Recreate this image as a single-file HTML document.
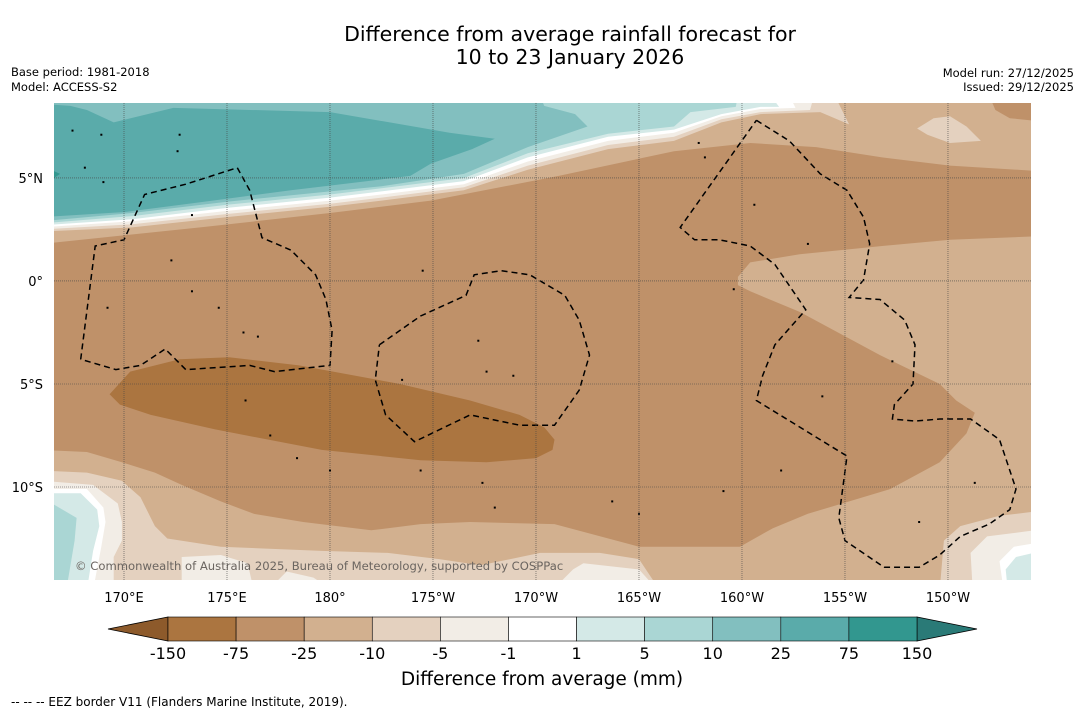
<!DOCTYPE html>
<html><head><meta charset="utf-8"><style>
html,body{margin:0;padding:0;background:#fff;}
svg{display:block;font-family:"DejaVu Sans","Liberation Sans",sans-serif;}
</style></head><body>
<svg id="chart" width="1085" height="713" viewBox="0 0 1085 713" xmlns="http://www.w3.org/2000/svg">
<rect width="1085" height="713" fill="#fff"/>
<text x="570" y="41" font-size="20.5" text-anchor="middle" fill="#000">Difference from average rainfall forecast for</text>
<text x="570" y="64" font-size="20.5" text-anchor="middle" fill="#000">10 to 23 January 2026</text>
<text x="11" y="76" font-size="11.5">Base period: 1981-2018</text>
<text x="11" y="91" font-size="11.5">Model: ACCESS-S2</text>
<text x="1074" y="77" font-size="11.5" text-anchor="end">Model run: 27/12/2025</text>
<text x="1074" y="91" font-size="11.5" text-anchor="end">Issued: 29/12/2025</text>
<defs><clipPath id="mapclip"><rect x="54" y="103" width="977" height="477"/></clipPath></defs>
<g id="map" clip-path="url(#mapclip)"></g>
<g id="axes"></g>
<g id="cbar"></g>
<text x="542" y="685" font-size="18.5" text-anchor="middle">Difference from average (mm)</text>
<text x="11" y="706" font-size="12">--  --  -- EEZ border V11 (Flanders Marine Institute, 2019).</text>
</svg>
<script>
// ---- data ----
const levelLabels = ["-150","-75","-25","-10","-5","-1","1","5","10","25","75","150"];
const levelColors = ["#ab7540","#bf9169","#d2b08f","#e4d1bf","#f2ede6","#ffffff","#d4e9e7","#aad6d4","#82bfbf","#5aabaa","#32978f"];
const extendLowColor = "#8d5a2b";
const extendHighColor = "#2a7a77";
const lonTicks = [170,175,180,185,190,195,200,205,210];
const lonTickLabels = ["170°E","175°E","180°","175°W","170°W","165°W","160°W","155°W","150°W"];
const latTicks = [5,0,-5,-10];
const latTickLabels = ["5°N","0°","5°S","10°S"];
// contour polygons [lon(0-360), lat]
const northLight = [[166,9],[215,9],[215,5.3],[210.1,5.6],[206.8,6.0],[203.6,6.5],[200.4,6.7],[196.7,6.3],[191.1,5.1],[184.9,3.9],[180,3.3],[173.7,2.6],[166,1.8]];
const topRightBase = [[212,9],[215,9],[215,7.7],[213.0,7.9],[212.3,8.3]];
const topRightPatch = [[208.5,7.4],[209.3,7.9],[210.1,8.0],[210.9,7.5],[211.6,6.8],[210.1,6.7],[209.0,7.1]];
const southLight = [[199.8,0.2],[200.4,0.9],[202.8,1.3],[206.8,1.7],[210.1,2.0],[215,2.2],[215,-15],[166,-15],[166,-8.2],[168.2,-8.3],[169.9,-8.8],[171.5,-9.3],[172.8,-9.9],[174.7,-10.7],[176.3,-11.3],[178.7,-11.7],[182.0,-12.1],[184.4,-11.8],[186.8,-11.7],[190.9,-11.8],[195.0,-12.9],[199.9,-12.9],[201.5,-12.0],[203.2,-11.3],[207.2,-10.1],[209.6,-8.8],[210.9,-7.4],[211.3,-6.4],[210.4,-5.8],[209.6,-5.0],[206.7,-3.6],[202.8,-1.5],[200.4,-0.5],[199.8,-0.2]];
const blM10 = [[166,-9.2],[168.2,-9.3],[169.9,-9.7],[170.8,-10.5],[171.5,-11.9],[172.1,-12.5],[174.7,-12.9],[179.6,-13.1],[182.8,-13.2],[185.3,-13.5],[187.3,-13.8],[190.2,-13.2],[193.1,-13.2],[195.0,-13.5],[196.0,-15],[166,-15]];
const brM10 = [[209.6,-15],[209.8,-12.6],[210.6,-11.9],[212.5,-11.4],[215,-11.1],[215,-15]];
const blM5 = [[166,-9.7],[168.5,-9.9],[169.7,-10.8],[169.9,-11.7],[169.9,-12.6],[169.5,-13.4],[169.5,-15],[166,-15]];
const patchM5a = [[172.8,-15],[172.8,-13.4],[174.7,-13.3],[176.0,-13.7],[176.3,-15]];
const patchM5b = [[177.0,-15],[177.9,-14.1],[179.2,-14.4],[180.1,-15]];
const patchM5c = [[190.8,-15],[191.8,-14.0],[192.3,-13.7],[195.0,-14.0],[195.9,-15]];
const brM5 = [[211.2,-15],[211.1,-13.2],[211.9,-12.4],[215,-12.0],[215,-15]];
const blWhite = [[166,-10.1],[168.2,-10.1],[169.0,-11.0],[169.1,-11.7],[168.9,-12.9],[168.5,-15],[166,-15]];
const brWhite = [[212.7,-15],[212.5,-13.6],[213.2,-12.9],[215,-12.6],[215,-15]];
const blP1 = [[166,-10.3],[167.9,-10.3],[168.7,-11.1],[168.8,-11.9],[168.5,-13.1],[168.2,-15],[166,-15]];
const brP1 = [[212.9,-15],[212.8,-14.0],[213.3,-13.4],[215,-13.0],[215,-15]];
const blP5 = [[166,-10.5],[167.7,-11.5],[167.6,-12.6],[167.2,-15],[166,-15]];
const tongue = [[169.3,-5.5],[170.3,-4.4],[172.7,-3.8],[175.1,-3.7],[178.5,-4.1],[183.4,-5.0],[186.8,-5.8],[189.2,-6.5],[190.4,-7.1],[190.9,-7.7],[190.8,-8.2],[190.0,-8.6],[187.6,-8.8],[184.4,-8.7],[179.6,-8.2],[174.4,-7.2],[171.3,-6.5],[169.8,-6.0]];
const curveM10 = [[166,2.4],[170.4,2.6],[175.0,3.1],[180.0,3.6],[182.5,3.9],[186.5,4.4],[189.6,5.4],[193.5,6.4],[196.7,6.8],[199.0,7.7],[200.9,8.1],[203.8,8.2],[205.2,7.6],[204.5,9]];
const curveM5 = [[166,2.5],[170.4,2.75],[175.0,3.25],[180.0,3.75],[182.5,4.05],[186.5,4.55],[189.6,5.6],[193.5,6.6],[196.7,7.0],[199.0,7.85],[200.9,8.2],[203.3,8.3],[203.5,9]];
const curveM1 = [[166,2.6],[170.4,2.9],[175.0,3.4],[180.0,3.9],[182.5,4.2],[186.5,4.7],[189.6,5.8],[193.5,6.8],[196.7,7.2],[199.0,8.0],[200.9,8.35],[202.6,8.4],[202.3,9]];
const curveP1 = [[166,2.7],[170.4,3.0],[175.0,3.55],[180.0,4.05],[182.5,4.35],[186.5,4.85],[189.6,6.0],[193.5,7.0],[196.7,7.35],[199.0,8.1],[200.9,8.45],[201.8,8.45],[201.4,9]];
const curveP5 = [[166,2.8],[170.4,3.15],[175.0,3.7],[180.0,4.2],[182.5,4.5],[186.5,5.0],[189.6,6.2],[193.5,7.15],[196.7,7.5],[197.5,8.2],[199.7,8.45],[199.8,9]];
const curveP10 = [[166,2.9],[170.4,3.3],[175.0,3.85],[180.0,4.35],[182.5,4.6],[186.5,5.2],[189.6,6.5],[192.5,7.5],[191.9,8.1],[190.4,8.5],[190.2,9]];
const polyP25 = [[166,3.1],[170.05,3.35],[174.3,3.9],[178.1,4.4],[183.9,5.1],[184.9,5.7],[186.9,6.4],[188.0,6.9],[185.8,7.2],[180.0,8.2],[172.4,8.4],[169.5,7.7],[168.2,8.3],[167.4,8.5],[166,8.6],[166,9]];
const patchP75 = [[166,5.6],[166.9,5.2],[166,4.6]];
const eezWest = [[167.9,-3.8],[168.6,1.7],[170.0,2.0],[171.0,4.2],[173.0,4.7],[175.5,5.5],[176.1,4.4],[176.7,2.1],[178.1,1.5],[179.3,0.3],[179.8,-0.9],[180.1,-2.4],[180,-4.1],[177.3,-4.4],[176.1,-4.1],[173.0,-4.3],[172.0,-3.3],[170.8,-4.1],[169.6,-4.3],[167.9,-3.8]];
const eezMid = [[182.4,-3.1],[184.4,-1.7],[186.6,-0.7],[187.0,0.3],[188.3,0.5],[189.7,0.3],[191.4,-0.7],[192.1,-1.9],[192.6,-3.6],[192.1,-5.3],[190.9,-7.0],[189.2,-7.0],[186.8,-6.5],[184.1,-7.8],[182.7,-6.5],[182.2,-4.8],[182.4,-3.1]];
const eezEast = [[200.7,7.8],[202.3,6.8],[203.8,5.2],[205.1,4.4],[205.9,3.1],[206.2,1.8],[205.9,0.05],[205.2,-0.8],[206.7,-0.9],[207.9,-1.9],[208.4,-3.1],[208.3,-5.0],[207.4,-6.0],[207.3,-6.7],[208.4,-6.8],[209.6,-6.7],[211.1,-6.7],[212.5,-7.7],[213.3,-10.1],[213.0,-11.1],[212.0,-11.8],[210.6,-12.4],[209.6,-13.3],[208.6,-13.9],[206.9,-13.9],[205,-12.6],[204.7,-11.5],[205.1,-8.5],[200.7,-5.8],[201.0,-4.6],[201.6,-3.1],[203.1,-1.4],[201.6,0.8],[200.4,1.7],[198.9,2.0],[197.7,2.0],[197.0,2.6],[200.7,7.8]];
const islands = [[169.2,-1.3],[172.3,1.0],[173.3,-0.5],[174.6,-1.3],[175.8,-2.5],[176.5,-2.7],[175.9,-5.8],[177.1,-7.5],[178.4,-8.6],[180.0,-9.2],[184.5,0.5],[187.2,-2.9],[187.6,-4.4],[188.9,-4.6],[183.5,-4.8],[200.6,3.7],[203.2,1.8],[199.6,-0.4],[207.3,-3.9],[203.9,-5.6],[201.9,-9.2],[199.1,-10.2],[208.6,-11.7],[211.3,-9.8],[193.7,-10.7],[195.0,-11.3],[184.4,-9.2],[187.4,-9.8],[188.0,-11.0],[169.0,4.8],[168.1,5.5],[173.3,3.2],[172.6,6.3],[172.7,7.1],[168.9,7.1],[167.5,7.3],[197.9,6.7],[198.2,6.0]];

// ---- axis functions ----
const X0=54, X1=1031, Y0=103, Y1=580;
const lonMin=166.602, lonMax=214.03, latMax=8.64, latMin=-14.515;
function xs(lon){return X0+(lon-lonMin)/(lonMax-lonMin)*(X1-X0);}
function ys(lat){return Y0+(latMax-lat)/(latMax-latMin)*(Y1-Y0);}
const NS="http://www.w3.org/2000/svg";
const map=document.getElementById('map');
function pts(a){return a.map(p=>xs(p[0]).toFixed(1)+','+ys(p[1]).toFixed(1)).join(' ');}
function poly(a,color,name){
  const el=document.createElementNS(NS,'polygon');
  el.setAttribute('points',pts(a));
  el.setAttribute('fill',color);
  
  
  map.appendChild(el);
}
function above(curve){return curve.concat([[166,9]]);}
const C=levelColors;
const bg=document.createElementNS(NS,'rect');
bg.setAttribute('x',X0);bg.setAttribute('y',Y0);bg.setAttribute('width',X1-X0);bg.setAttribute('height',Y1-Y0);bg.setAttribute('fill',C[1]);


map.appendChild(bg);
poly(northLight,C[2],'contour-north-light');
poly(topRightBase,C[1],'contour-topright-base');
poly(topRightPatch,C[3],'contour-topright-patch');
poly(southLight,C[2],'contour-south-light');
poly(blM10,C[3],'contour-sw-m10');
poly(brM10,C[3],'contour-se-m10');
poly(blM5,C[4],'contour-sw-m5');
poly(patchM5a,C[4],'contour-s-m5-a');
poly(patchM5b,C[4],'contour-s-m5-b');
poly(patchM5c,C[4],'contour-s-m5-c');
poly(brM5,C[4],'contour-se-m5');
poly(blWhite,C[5],'contour-sw-white');
poly(brWhite,C[5],'contour-se-white');
poly(blP1,C[6],'contour-sw-p1');
poly(brP1,C[6],'contour-se-p1');
poly(blP5,C[7],'contour-sw-p5');
poly(tongue,C[0],'contour-dry-tongue');
poly(above(curveM10),C[3],'contour-north-m10');
poly(above(curveM5),C[4],'contour-north-m5');
poly(above(curveM1),C[5],'contour-north-white');
poly(above(curveP1),C[6],'contour-north-p1');
poly(above(curveP5),C[7],'contour-north-p5');
poly(above(curveP10),C[8],'contour-north-p10');
poly(polyP25,C[9],'contour-north-p25');
poly(patchP75,C[10],'contour-north-p75');
islands.forEach(p=>{
  const d=document.createElementNS(NS,'rect');
  d.setAttribute('x',xs(p[0])-1);d.setAttribute('y',ys(p[1])-1);d.setAttribute('width',2);d.setAttribute('height',2);d.setAttribute('fill','#000');
  
  
  map.appendChild(d);
});
function eez(a,name){
  const el=document.createElementNS(NS,'polyline');
  el.setAttribute('points',pts(a));
  el.setAttribute('fill','none');el.setAttribute('stroke','#000');el.setAttribute('stroke-width','1.5');el.setAttribute('stroke-dasharray','6,4');
  
  
  map.appendChild(el);
}
eez(eezWest,'eez-border-west');
eez(eezMid,'eez-border-middle');
eez(eezEast,'eez-border-east');
const copy=document.createElementNS(NS,'text');
copy.setAttribute('x',75);copy.setAttribute('y',570);copy.setAttribute('font-size','11.6');copy.setAttribute('fill','#6b6560');
copy.textContent='© Commonwealth of Australia 2025, Bureau of Meteorology, supported by COSPPac';


map.appendChild(copy);

// ---- axes / grid ----
const axes=document.getElementById('axes');
lonTicks.forEach((v,i)=>{
  const l=document.createElementNS(NS,'line');
  l.setAttribute('x1',xs(v));l.setAttribute('x2',xs(v));l.setAttribute('y1',Y0);l.setAttribute('y2',Y1);
  l.setAttribute('stroke','#444');l.setAttribute('stroke-width','0.6');l.setAttribute('stroke-dasharray','1,1');
  
  
  axes.appendChild(l);
  const t=document.createElementNS(NS,'text');
  t.setAttribute('x',xs(v));t.setAttribute('y',602);t.setAttribute('font-size','13');t.setAttribute('text-anchor','middle');
  t.textContent=lonTickLabels[i];
  
  
  axes.appendChild(t);
});
latTicks.forEach((v,i)=>{
  const l=document.createElementNS(NS,'line');
  l.setAttribute('x1',X0);l.setAttribute('x2',X1);l.setAttribute('y1',ys(v));l.setAttribute('y2',ys(v));
  l.setAttribute('stroke','#444');l.setAttribute('stroke-width','0.6');l.setAttribute('stroke-dasharray','1,1');
  
  
  axes.appendChild(l);
  const t=document.createElementNS(NS,'text');
  t.setAttribute('x',43);t.setAttribute('y',ys(v)+5);t.setAttribute('font-size','13');t.setAttribute('text-anchor','end');
  t.textContent=latTickLabels[i];
  
  
  axes.appendChild(t);
});

// ---- colorbar ----
const cb=document.getElementById('cbar');
const cbL=168, cbR=917, cbT=617, cbB=641, n=levelColors.length, w=(cbR-cbL)/n;
function cbx(i){return cbL+i*w;}
const lt=document.createElementNS(NS,'polygon');
lt.setAttribute('points',`108,${(cbT+cbB)/2} ${cbL},${cbT} ${cbL},${cbB}`);lt.setAttribute('fill',extendLowColor);lt.setAttribute('stroke','#000');lt.setAttribute('stroke-width','0.8');


cb.appendChild(lt);
const rt=document.createElementNS(NS,'polygon');
rt.setAttribute('points',`977,${(cbT+cbB)/2} ${cbR},${cbT} ${cbR},${cbB}`);rt.setAttribute('fill',extendHighColor);rt.setAttribute('stroke','#000');rt.setAttribute('stroke-width','0.8');


cb.appendChild(rt);
levelColors.forEach((c,i)=>{
  const r=document.createElementNS(NS,'rect');
  r.setAttribute('x',cbx(i));r.setAttribute('y',cbT);r.setAttribute('width',w);r.setAttribute('height',cbB-cbT);r.setAttribute('fill',c);r.setAttribute('stroke','#000');r.setAttribute('stroke-width','0.6');
  
  
  cb.appendChild(r);
});
levelLabels.forEach((s,i)=>{
  const t=document.createElementNS(NS,'text');
  t.setAttribute('x',cbx(i));t.setAttribute('y',659);t.setAttribute('font-size','16');t.setAttribute('text-anchor','middle');
  t.textContent=s;
  
  
  cb.appendChild(t);
});
</script>
</body></html>
